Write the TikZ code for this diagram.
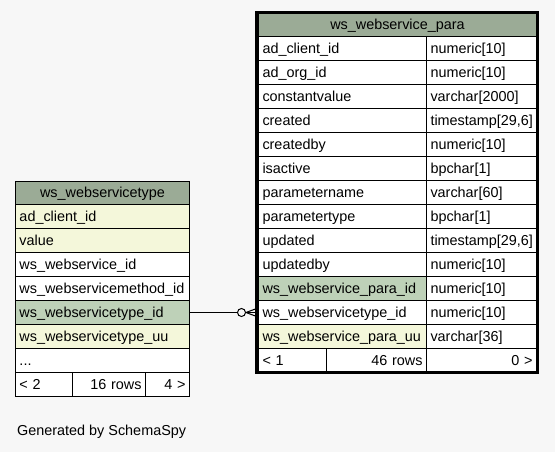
\documentclass[tikz,border=0pt]{standalone}
\usepackage{fontspec}
\setmainfont{Liberation Sans}
\usetikzlibrary{calc}
\definecolor{bgc}{HTML}{F7F7F7}
\definecolor{hdrc}{HTML}{9BAB96}
\definecolor{pkc}{HTML}{BED1B8}
\definecolor{idxc}{HTML}{F4F7DA}
\tikzset{
  cell/.style={draw=black, line width=1pt, anchor=north west, inner xsep=4pt, inner ysep=0pt,
    text height=11.5pt, text depth=2pt, font=\fontsize{14.4}{16}\selectfont},
}
\newcommand\mycell[8]{\node[cell, fill=#6, text width=#4pt, minimum height=#5pt, align=#7] (#1) at (#2,#3) {#8};}
\begin{document}
\begin{tikzpicture}[x=1pt,y=-1pt]
\useasboundingbox[fill=bgc] (0,0) rectangle (555,452);
% left table
\mycell{lh}{15}{181}{166}{23}{hdrc}{center}{ws\_webservicetype}
\mycell{l1}{15}{204}{166}{24}{idxc}{left}{ad\_client\_id}
\mycell{l2}{15}{228}{166}{24}{idxc}{left}{value}
\mycell{l3}{15}{252}{166}{24}{white}{left}{ws\_webservice\_id}
\mycell{l4}{15}{276}{166}{24}{white}{left}{ws\_webservicemethod\_id}
\mycell{l5}{15}{300}{166}{24}{pkc}{left}{ws\_webservicetype\_id}
\mycell{l6}{15}{324}{166}{24}{idxc}{left}{ws\_webservicetype\_uu}
\mycell{l7}{15}{348}{166}{24}{white}{left}{...}
\mycell{lf1}{15}{372}{49}{24}{white}{left}{< 2}
\mycell{lf2}{72}{372}{65}{24}{white}{right}{16 rows}
\mycell{lf3}{145}{372}{36}{24}{white}{right}{4 >}
% right table
\mycell{rh}{258}{13}{270}{23}{hdrc}{center}{ws\_webservice\_para}
\mycell{ra1}{258}{36}{160}{24}{white}{left}{ad\_client\_id}
\mycell{rb1}{426}{36}{102}{24}{white}{left}{numeric[10]}
\mycell{ra2}{258}{60}{160}{24}{white}{left}{ad\_org\_id}
\mycell{rb2}{426}{60}{102}{24}{white}{left}{numeric[10]}
\mycell{ra3}{258}{84}{160}{24}{white}{left}{constantvalue}
\mycell{rb3}{426}{84}{102}{24}{white}{left}{varchar[2000]}
\mycell{ra4}{258}{108}{160}{24}{white}{left}{created}
\mycell{rb4}{426}{108}{102}{24}{white}{left}{timestamp[29,6]}
\mycell{ra5}{258}{132}{160}{24}{white}{left}{createdby}
\mycell{rb5}{426}{132}{102}{24}{white}{left}{numeric[10]}
\mycell{ra6}{258}{156}{160}{24}{white}{left}{isactive}
\mycell{rb6}{426}{156}{102}{24}{white}{left}{bpchar[1]}
\mycell{ra7}{258}{180}{160}{24}{white}{left}{parametername}
\mycell{rb7}{426}{180}{102}{24}{white}{left}{varchar[60]}
\mycell{ra8}{258}{204}{160}{24}{white}{left}{parametertype}
\mycell{rb8}{426}{204}{102}{24}{white}{left}{bpchar[1]}
\mycell{ra9}{258}{228}{160}{24}{white}{left}{updated}
\mycell{rb9}{426}{228}{102}{24}{white}{left}{timestamp[29,6]}
\mycell{ra10}{258}{252}{160}{24}{white}{left}{updatedby}
\mycell{rb10}{426}{252}{102}{24}{white}{left}{numeric[10]}
\mycell{ra11}{258}{276}{160}{24}{pkc}{left}{ws\_webservice\_para\_id}
\mycell{rb11}{426}{276}{102}{24}{white}{left}{numeric[10]}
\mycell{ra12}{258}{300}{160}{24}{white}{left}{ws\_webservicetype\_id}
\mycell{rb12}{426}{300}{102}{24}{white}{left}{numeric[10]}
\mycell{ra13}{258}{324}{160}{24}{idxc}{left}{ws\_webservice\_para\_uu}
\mycell{rb13}{426}{324}{102}{24}{white}{left}{varchar[36]}
\mycell{rf1}{258}{348}{60}{24}{white}{left}{< 1}
\mycell{rf2}{326}{348}{92}{24}{white}{right}{46 rows}
\mycell{rf3}{426}{348}{102}{24}{white}{right}{0 >}
\draw[line width=3pt] (256.5,12.5) rectangle (537.5,372.5);
% connector
\node[draw, circle, line width=1pt, fill=bgc, minimum size=8pt, inner sep=0pt] (opt) at (241.5,312.5) {};
\coordinate (crow) at (246,312.5);
\draw[line width=1pt] (l5.east) -- (opt.west);
\draw[line width=1pt] (opt.east) -- (ra12.west);
\draw[line width=1pt] (crow) -- ($(ra12.west)+(0,-4.5)$);
\draw[line width=1pt] (crow) -- ($(ra12.west)+(0,4.5)$);
% footer
\node[anchor=west, font=\fontsize{14.4}{16}\selectfont, inner sep=0pt] (gen) at (17,432) {Generated by SchemaSpy};
\end{tikzpicture}
\end{document}
